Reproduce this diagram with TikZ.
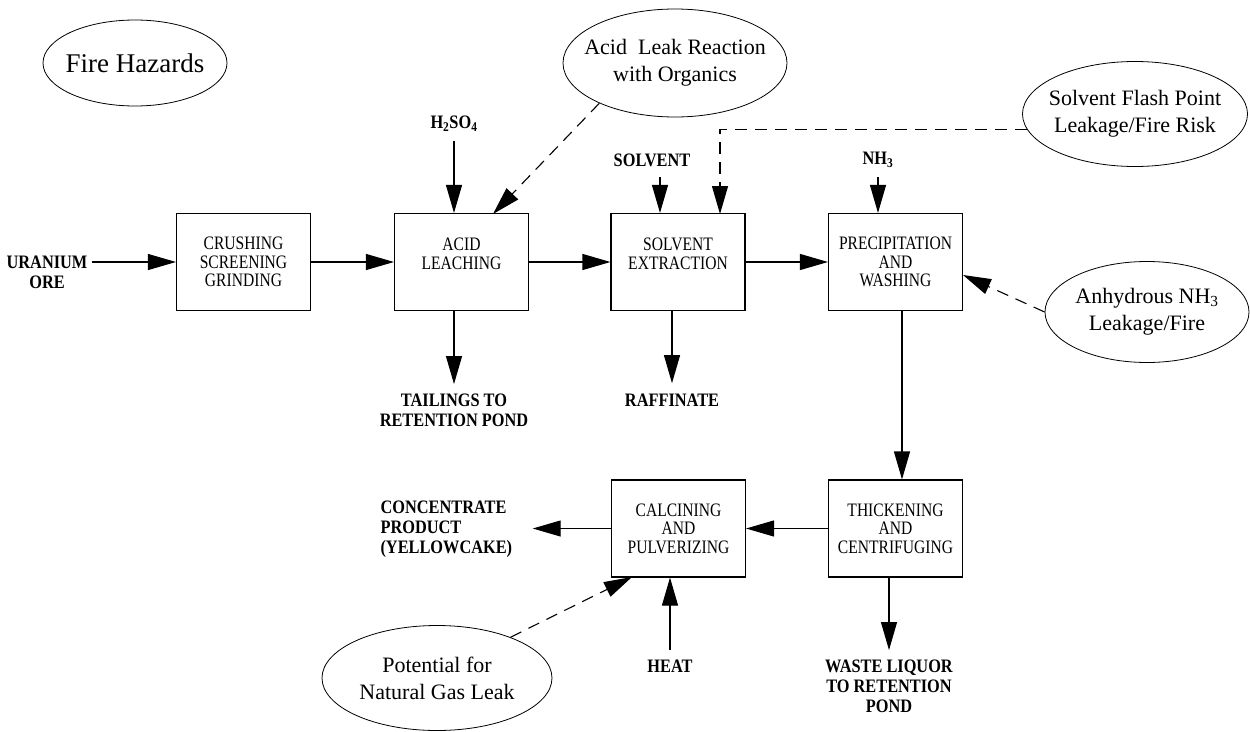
\documentclass[tikz,border=0pt]{standalone}
\usepackage{fontspec}
\setmainfont{Liberation Serif}
\newfontfamily\labfont[FakeStretch=0.86]{Liberation Serif}
\newfontfamily\boxfont[FakeStretch=0.82]{Liberation Serif}
\usetikzlibrary{arrows.meta,shapes.geometric,calc}
\begin{document}
\begin{tikzpicture}[x=1pt,y=-1pt, line width=1.1pt,
  box/.style={draw, rectangle, minimum width=134pt, minimum height=97pt, inner sep=0pt, align=center, font=\boxfont\fontsize{19}{18.5}\selectfont},
  boxtxt/.style={align=center, font=\boxfont\fontsize{19}{18.5}\selectfont, inner sep=0pt},
  lab/.style={align=center, font=\labfont\bfseries\fontsize{19}{20}\selectfont, inner sep=0pt},
  hazard/.style={draw, ellipse, line width=0.8pt, inner sep=0pt},
  haztxt/.style={align=center, font=\fontsize{22}{27}\selectfont, inner sep=0pt},
  flow/.style={-{Triangle[length=28pt,width=16pt]}},
  risk/.style={flow, dash pattern=on 12pt off 8pt}]
\useasboundingbox (0,0) rectangle (1250,731);

% process boxes
\node[box] (crush) at (243.5,262) {CRUSHING\\SCREENING\\GRINDING};
\node[box, label={[boxtxt,yshift=8pt]center:{ACID\\LEACHING}}] (acid) at (461.5,262) {};
\node[box, label={[boxtxt,yshift=8pt]center:{SOLVENT\\EXTRACTION}}] (solv) at (678,262) {};
\node[box] (prec) at (895.5,262) {PRECIPITATION\\AND\\WASHING};
\node[box] (thick) at (895.5,528.5) {THICKENING\\AND\\CENTRIFUGING};
\node[box] (calc) at (678.5,528.5) {CALCINING\\AND\\PULVERIZING};

% stream labels
\node[lab] (ore) at (47,272) {URANIUM\\ORE};
\node[lab] (h2so4) at (454,124) {H\textsubscript{2}SO\textsubscript{4}};
\node[lab] (solvin) at (652,160) {SOLVENT};
\node[lab] (nh3) at (878,160) {NH\textsubscript{3}};
\node[lab] (tail) at (454,410) {TAILINGS TO\\RETENTION POND};
\node[lab] (raff) at (672,400) {RAFFINATE};
\node[lab, align=left, anchor=west] (conc) at (380,529) {CONCENTRATE\\PRODUCT\\(YELLOWCAKE)};
\node[lab] (heat) at (670,666) {HEAT};
\node[lab] (waste) at (889,686) {WASTE LIQUOR\\TO RETENTION\\POND};

% hazard ellipses
\node[hazard, minimum width=184pt, minimum height=86pt, label={[haztxt, font=\fontsize{27}{30}\selectfont]center:Fire Hazards}] (fire) at (135,63) {};
\node[hazard, minimum width=224pt, minimum height=108pt, label={[haztxt]center:{Acid\ \ Leak Reaction\\with Organics}}] (leak) at (675,63) {};
\node[hazard, minimum width=225pt, minimum height=105pt, label={[haztxt]center:{Solvent Flash Point\\Leakage/Fire Risk}}] (flash) at (1135,114) {};
\node[hazard, minimum width=204pt, minimum height=101pt, label={[haztxt]center:{Anhydrous NH\textsubscript{3}\\Leakage/Fire}}] (anh) at (1147,312) {};
\node[hazard, minimum width=230pt, minimum height=105pt, label={[haztxt]center:{Potential for\\Natural Gas Leak}}] (gas) at (437,678) {};

% hazard arrow targets
\coordinate (acidin) at (493,214);
\coordinate (fxin) at (720,214);
\coordinate (precin) at (963,275);
\coordinate (calcin) at (632,577);

% main flow
\draw[flow] ([xshift=4pt]ore.east |- crush.west) -- (crush.west);
\draw[flow] (crush) -- (acid);
\draw[flow] (acid) -- (solv);
\draw[flow] (solv) -- (prec);
\draw[flow] ($(h2so4.south)+(0,9)$) -- (h2so4.south |- acid.north);
\draw[flow] ($(solvin.south)+(8,10)$) -- ($(solvin.south |- solv.north)+(8,0)$);
\draw[flow] ($(nh3.south)+(0,9)$) -- (nh3.south |- prec.north);
\draw[flow] (tail |- acid.south) -- ($(tail.north)+(0,-9)$);
\draw[flow] (raff |- solv.south) -- ($(raff.north)+(0,-10)$);
\draw[flow] ($(prec.south)+(6.5,0)$) -- ($(thick.north)+(6.5,0)$);
\draw[flow] (thick) -- (calc);
\draw[flow] (calc.west) -- ($(conc.east |- calc.west)+(20,0)$);
\draw[flow] ($(heat.north)+(0,-9)$) -- (heat.north |- calc.south);
\draw[flow] (waste |- thick.south) -- ($(waste.north)+(0,-9)$);

% hazard links
\draw[risk] (leak.208.6) -- (acidin);
\draw[risk] (flash.188) -| (fxin);
\draw[risk] (anh.west) -- (precin);
\draw[risk] (gas.29) -- (calcin);
\end{tikzpicture}
\end{document}
